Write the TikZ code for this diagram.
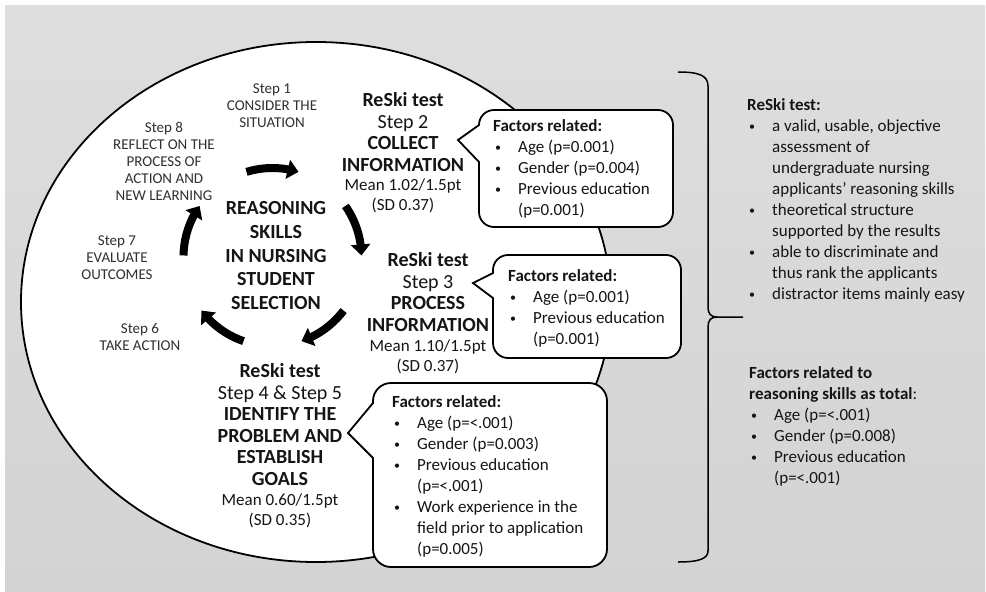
\documentclass[tikz,border=0pt]{standalone}
\usepackage{fontspec}
\setmainfont{Carlito}
\usetikzlibrary{arrows.meta,bending,calc}

\definecolor{bgtop}{HTML}{DEDEDE}
\definecolor{bgbot}{HTML}{D3D3D3}
\definecolor{ink}{HTML}{151515}
\definecolor{inklight}{HTML}{303030}

\newcommand\bul{\hspace*{2pt}\raisebox{1.5pt}{\fontsize{12}{12}\selectfont •}}

\newcommand\calloutbox[9]{%
  \draw[callout] (#1,#9) -- (#7,#8) -- (#1,#6) -- (#1,#2+#5)
    arc[start angle=180,end angle=270,radius=#5] -- (#3-#5,#2)
    arc[start angle=270,end angle=360,radius=#5] -- (#3,#4-#5)
    arc[start angle=0,end angle=90,radius=#5] -- (#1+#5,#4)
    arc[start angle=90,end angle=180,radius=#5] -- cycle;}

\begin{document}
\begin{tikzpicture}[x=1pt,y=-1pt,
  lbl/.style={font=\fontsize{15}{17}\selectfont, align=center, inner sep=0pt, anchor=north, text=inklight},
  core/.style={font=\bfseries\fontsize{20}{23.75}\selectfont, align=center, inner sep=0pt, anchor=north, text=ink},
  stepbig/.style={font=\fontsize{20}{21.5}\selectfont, align=center, inner sep=0pt, anchor=north, text=ink},
  stepmean/.style={font=\fontsize{17}{20}\selectfont, align=center, inner sep=0pt, anchor=north, text=ink},
  listtxt/.style={font=\fontsize{17}{21}\selectfont, inner sep=0pt, anchor=north west, text=ink},
  callout/.style={draw=black, line width=1.8pt, fill=white},
  cyc/.style={line width=8pt, -{Triangle[width=19pt,length=11pt]}},
  bracestyle/.style={line width=1.5pt, draw=black},
]
\useasboundingbox (0,0) rectangle (986,592);
\fill[white] (0,0) rectangle (986,592);
\shade[top color=bgtop,bottom color=bgbot] (5,5) rectangle (985,592);

% big ellipse
\draw[line width=1.8pt, fill=white] (316,302) ellipse [x radius=295, y radius=260];

% callouts
\calloutbox{479}{110}{673}{227}{15}{125}{458}{140}{162}
\calloutbox{493}{255}{681}{358}{15}{273}{473}{283}{298}
\calloutbox{373}{383}{607}{567}{18}{403}{348}{433}{458}

% cycle arrows
\coordinate (cc) at (272.5,257);
\foreach \s in {-107,-35,37,109,181}
  \draw[cyc] ($(cc)+(\s:89)$) arc[start angle=\s, end angle=\s+34, radius=89];

% step labels
\node[lbl] (s1) at (272,81) {\strut Step 1\\CONSIDER THE\\SITUATION};
\node[lbl] (s8) at (164,120) {\strut Step 8\\REFLECT ON THE\\PROCESS OF\\ACTION AND\\NEW LEARNING};
\node[lbl] (s7) at (117,233) {\strut Step 7\\EVALUATE\\OUTCOMES};
\node[lbl] (s6) at (140,321) {\strut Step 6\\TAKE ACTION};
\node[core] (core) at (276,197.8) {\strut REASONING\\SKILLS\\IN NURSING\\STUDENT\\SELECTION};

\node[stepbig] (s2) at (403,91.5) {\strut\textbf{ReSki test}\\Step 2\\\textbf{COLLECT}\\\textbf{INFORMATION}};
\node[stepmean] (s2m) at (403,176.4) {\strut Mean 1.02/1.5pt\\(SD 0.37)};
\node[stepbig] (s3) at (428,251.5) {\strut\textbf{ReSki test}\\Step 3\\\textbf{PROCESS}\\\textbf{INFORMATION}};
\node[stepmean] (s3m) at (428,337.4) {\strut Mean 1.10/1.5pt\\(SD 0.37)};
\node[stepbig] (s45) at (280,362.3) {\strut\textbf{ReSki test}\\Step 4 \& Step 5\\\textbf{IDENTIFY THE}\\\textbf{PROBLEM AND}\\\textbf{ESTABLISH}\\\textbf{GOALS}};
\node[stepmean] (s45m) at (280,491.4) {\strut Mean 0.60/1.5pt\\(SD 0.35)};

% callout texts
\node[listtxt] (f1) at (493,116.7) {\begin{tabular}{@{}p{25pt}@{}l@{}}
\multicolumn{2}{@{}l@{}}{\textbf{Factors related:}}\\
\bul&Age (p=0.001)\\
\bul&Gender (p=0.004)\\
\bul&Previous education\\
&(p=0.001)
\end{tabular}};
\node[listtxt] (f2) at (508,266.7) {\begin{tabular}{@{}p{25pt}@{}l@{}}
\multicolumn{2}{@{}l@{}}{\textbf{Factors related:}}\\
\bul&Age (p=0.001)\\
\bul&Previous education\\
&(p=0.001)
\end{tabular}};
\node[listtxt] (f3) at (392,392.7) {\begin{tabular}{@{}p{25pt}@{}l@{}}
\multicolumn{2}{@{}l@{}}{\textbf{Factors related:}}\\
\bul&Age (p=<.001)\\
\bul&Gender (p=0.003)\\
\bul&Previous education\\
&(p=<.001)\\
\bul&Work experience in the\\
&field prior to application\\
&(p=0.005)
\end{tabular}};

% brace
\draw[bracestyle] (678,72) .. controls (698,72) and (708,75) .. (708,86) -- (708,307)
  .. controls (708,314) and (711,317) .. (717,317) -- (743,317);
\draw[bracestyle] (717,317) .. controls (711,317) and (708,320) .. (708,327) -- (708,551)
  .. controls (708,559) and (698,562) .. (678,562);

% right texts
\node[listtxt] (r1) at (747,95.7) {\begin{tabular}{@{}p{25pt}@{}l@{}}
\multicolumn{2}{@{}l@{}}{\textbf{ReSki test:}}\\
\bul&a valid, usable, objective\\
&assessment of\\
&undergraduate nursing\\
&applicants’ reasoning skills\\
\bul&theoretical structure\\
&supported by the results\\
\bul&able to discriminate and\\
&thus rank the applicants\\
\bul&distractor items mainly easy
\end{tabular}};
\node[listtxt] (r2) at (749,363.7) {\begin{tabular}{@{}p{25pt}@{}l@{}}
\multicolumn{2}{@{}l@{}}{\textbf{Factors related to}}\\
\multicolumn{2}{@{}l@{}}{\textbf{reasoning skills as total}:}\\
\bul&Age (p=<.001)\\
\bul&Gender (p=0.008)\\
\bul&Previous education\\
&(p=<.001)
\end{tabular}};
\end{tikzpicture}
\end{document}
